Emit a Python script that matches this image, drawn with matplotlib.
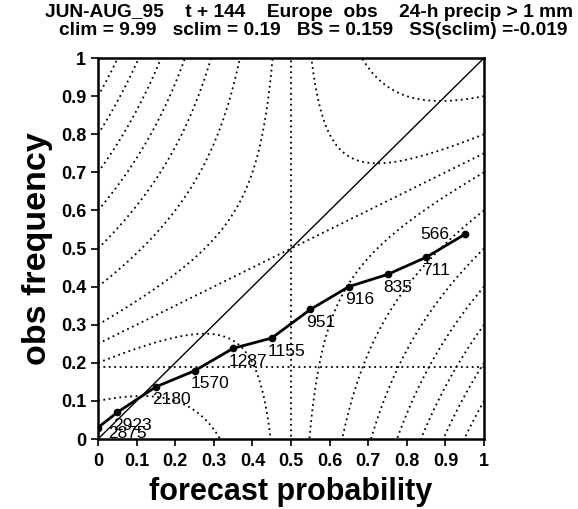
import numpy as np
import matplotlib
matplotlib.use("Agg")
import matplotlib.pyplot as plt

plt.rcParams['font.family'] = ['Liberation Sans', 'DejaVu Sans']

# reliability curve (forecast probability bins, observed frequency, counts)
fc_prob = [0.0, 0.05, 0.15, 0.25, 0.35, 0.45, 0.55, 0.65, 0.75, 0.85, 0.95]
obs_freq = [0.030, 0.070, 0.137, 0.179, 0.238, 0.265, 0.340, 0.400, 0.432, 0.477, 0.537]
counts = [2875, 2923, 2180, 1570, 1287, 1155, 951, 916, 835, 711, 566]

sclim = 0.19
bs_levels = [0.1, 0.2, 0.25, 0.3, 0.4, 0.5, 0.6, 0.7, 0.8, 0.9]
ticks = [0, 0.1, 0.2, 0.3, 0.4, 0.5, 0.6, 0.7, 0.8, 0.9, 1]

title1 = "JUN-AUG_95    t + 144    Europe  obs    24-h precip > 1 mm"
title2 = "clim = 9.99   sclim = 0.19   BS = 0.159   SS(sclim) =-0.019"

fig = plt.figure(figsize=(5.78, 5.09), dpi=100)
ax = fig.add_axes([0.1696, 0.1375, 0.6678, 0.7485])

# Brier score isopleths: BS = p^2 - 2po + o
g = np.linspace(0, 1, 400)
P, O = np.meshgrid(g, g)
F = P**2 - 2 * P * O + O
ax.contour(P, O, F, levels=bs_levels, colors='black', linewidths=1.3,
           linestyles=[(0, (1, 2))])
ax.axhline(sclim, color='black', lw=1.3, ls=(0, (1, 2)))

ax.plot([0, 1], [0, 1], color='black', lw=1)
ax.plot(fc_prob, obs_freq, color='black', lw=2, marker='o', markersize=4.5)

# count labels
special = {566: (-32, 0, 'left', 'center'), 2875: (7, -4, 'left', 'center')}
for p, o, n in zip(fc_prob, obs_freq, counts):
    dx, dy, ha, va = special.get(n, (-3, -4, 'left', 'top'))
    ax.annotate(str(n), (p, o), xytext=(dx, dy), textcoords='offset points',
                ha=ha, va=va, fontsize=12.5)

ax.set_xlim(0, 1)
ax.set_ylim(0, 1)
ax.set_xticks(ticks)
ax.set_yticks(ticks)
ax.set_xticklabels(['%g' % t for t in ticks], fontweight='bold', fontsize=13)
ax.set_yticklabels(['%g' % t for t in ticks], fontweight='bold', fontsize=13)
ax.tick_params(direction='out', length=5, width=1.2, color='black')
ax.tick_params(axis='x', pad=5)
for s in ax.spines.values():
    s.set_linewidth(1.8)

ax.set_xlabel('forecast probability', fontsize=22, fontweight='bold', labelpad=5)
ax.set_ylabel('obs frequency', fontsize=24.5, fontweight='bold', labelpad=6)

fig.text(0.534, 0.992, title1, ha='center', va='top', fontsize=13.8, fontweight='bold')
fig.text(0.5415, 0.956, title2, ha='center', va='top', fontsize=13.8, fontweight='bold')

fig.savefig('out.png', dpi=100)
